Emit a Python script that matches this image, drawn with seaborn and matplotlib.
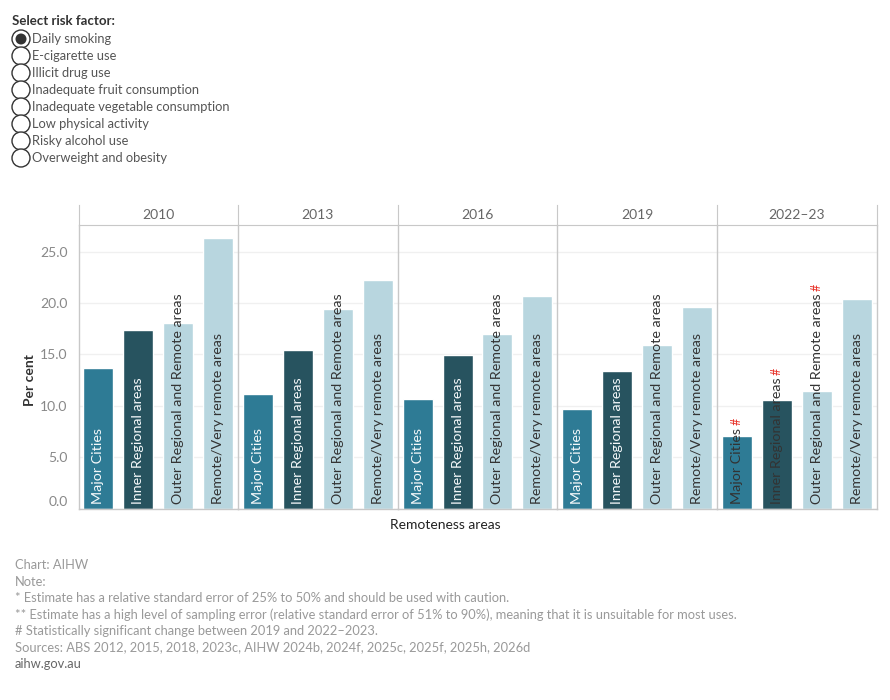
import matplotlib
matplotlib.use('Agg')
import matplotlib.pyplot as plt
from matplotlib.patches import Circle
import seaborn as sns
import pandas as pd

# Data (per cent, daily smoking)
years = ['2010', '2013', '2016', '2019', '2022\u201323']
areas = ['Major Cities', 'Inner Regional areas', 'Outer Regional and Remote areas', 'Remote/Very remote areas']
major_cities = [13.7, 11.1, 10.7, 9.7, 7.1]
inner_regional = [17.4, 15.4, 14.9, 13.4, 10.6]
outer_regional = [18.1, 19.4, 17.0, 15.9, 11.4]
remote = [26.3, 22.2, 20.7, 19.6, 20.4]
# '#' flag: statistically significant change between 2019 and 2022-23
significant = [[False] * 4, [False] * 4, [False] * 4, [False] * 4, [True, True, True, False]]

risk_factors = ['Daily smoking', 'E-cigarette use', 'Illicit drug use', 'Inadequate fruit consumption',
                'Inadequate vegetable consumption', 'Low physical activity', 'Risky alcohol use',
                'Overweight and obesity']
footer = ['Chart: AIHW', 'Note:',
          '* Estimate has a relative standard error of 25% to 50% and should be used with caution.',
          '** Estimate has a high level of sampling error (relative standard error of 51% to 90%), meaning that it is unsuitable for most uses.',
          '# Statistically significant change between 2019 and 2022\u20132023.',
          'Sources: ABS 2012, 2015, 2018, 2023c, AIHW 2024b, 2024f, 2025c, 2025f, 2025h, 2026d',
          'aihw.gov.au']

df = pd.DataFrame({
    'year': [y for y in years for _ in areas],
    'area': areas * len(years),
    'value': [v for vals in zip(major_cities, inner_regional, outer_regional, remote) for v in vals],
})

sns.set_style('white')
plt.rcParams['font.family'] = ['Lato', 'DejaVu Sans']

palette = {'Major Cities': '#2e7b95', 'Inner Regional areas': '#27535f',
           'Outer Regional and Remote areas': '#b8d6df', 'Remote/Very remote areas': '#b8d6df'}
line_grey = '#c8c8c8'

fig = plt.figure(figsize=(8.9, 7), dpi=100)

# Overlay in pixel coordinates for the radio list and footer
W, H = 890, 700
over = fig.add_axes([0, 0, 1, 1], zorder=5)
over.set_xlim(0, W)
over.set_ylim(H, 0)
over.axis('off')
over.patch.set_alpha(0)

over.text(12, 21, 'Select risk factor:', fontsize=9.5, fontweight='bold', color='#333333', va='center')
for i, rf in enumerate(risk_factors):
    yy = 39 + 17 * i
    over.add_patch(Circle((21, yy), 9, facecolor='white', edgecolor='#333333', lw=1.0))
    if i == 0:
        over.add_patch(Circle((21, yy), 5.5, facecolor='#333333', edgecolor='none'))
    over.text(32, yy, rf, fontsize=9.3, color='#555555', va='center')

for i, line in enumerate(footer):
    over.text(15, 565 + 16.5 * i, line, fontsize=9.3, va='center',
              color='#666666' if i == len(footer) - 1 else '#999999')

# Panels
left0, right0 = 78.5, 876.5
top_hdr, top_plot, base = 205, 225, 508.5
pw = (right0 - left0) / len(years)
ymax = 27.6

fig.canvas.draw()
renderer = fig.canvas.get_renderer()

for j, yr in enumerate(years):
    x0 = left0 + pw * j
    ax = fig.add_axes([x0 / W, (H - base) / H, pw / W, (base - top_plot) / H])
    hdr = fig.add_axes([x0 / W, (H - top_plot) / H, pw / W, (top_plot - top_hdr) / H])

    sub = df[df['year'] == yr]
    sns.barplot(data=sub, x='area', y='value', hue='area', order=areas, hue_order=areas,
                palette=palette, width=0.75, legend=False, ax=ax, saturation=1)
    ax.set_xlim(-0.5, 3.5)
    ax.set_ylim(0, ymax)
    ax.set_yticks([0, 5, 10, 15, 20, 25])
    ax.yaxis.grid(True, color='#f0f0f0', lw=1)
    ax.set_axisbelow(True)
    ax.set_xticks([])
    ax.set_xlabel('')
    ax.set_ylabel('')
    ax.spines['top'].set_visible(False)
    ax.spines['right'].set_visible(j == len(years) - 1)
    for s in ['left', 'right', 'bottom']:
        ax.spines[s].set_color(line_grey)
        ax.spines[s].set_linewidth(1)
    if j == 0:
        ax.set_yticklabels([f'{t:.1f}' for t in [0, 5, 10, 15, 20, 25]])
        ax.tick_params(axis='y', length=0, pad=8, labelsize=10, labelcolor='#888888')
        ax.get_yticklabels()[0].set_va('bottom')
    else:
        ax.tick_params(axis='y', length=0, labelleft=False)

    # labels inside the bars
    for i, area in enumerate(areas):
        val = sub['value'].iloc[i]
        t = ax.text(i, 0.4, area, rotation=90, ha='center', va='bottom', fontsize=10.3, color='white')
        bb = t.get_window_extent(renderer=renderer).transformed(ax.transData.inverted())
        fits = bb.y1 < val
        dark = area in ('Outer Regional and Remote areas', 'Remote/Very remote areas') or not fits
        t.set_color('#333333' if dark else '#f4f8fa')
        if significant[j][i]:
            ax.text(i, bb.y1 + 0.3, '#', rotation=90, ha='center', va='bottom', fontsize=9, color='#e8332a')

    hdr.set_xlim(0, 1)
    hdr.set_ylim(0, 1)
    hdr.set_xticks([])
    hdr.set_yticks([])
    hdr.patch.set_alpha(0)
    hdr.spines['top'].set_visible(False)
    hdr.spines['right'].set_visible(j == len(years) - 1)
    for s in ['left', 'right', 'bottom']:
        hdr.spines[s].set_color(line_grey)
    hdr.text(0.5, 0.5, yr, ha='center', va='center', fontsize=10, color='#666666')

over.text(30, 380, 'Per cent', rotation=90, ha='center', va='center', fontsize=10,
          fontweight='bold', color='#333333')
over.text(445, 525, 'Remoteness areas', ha='center', va='center', fontsize=10, color='#222222')

fig.savefig('out.png', dpi=100)
